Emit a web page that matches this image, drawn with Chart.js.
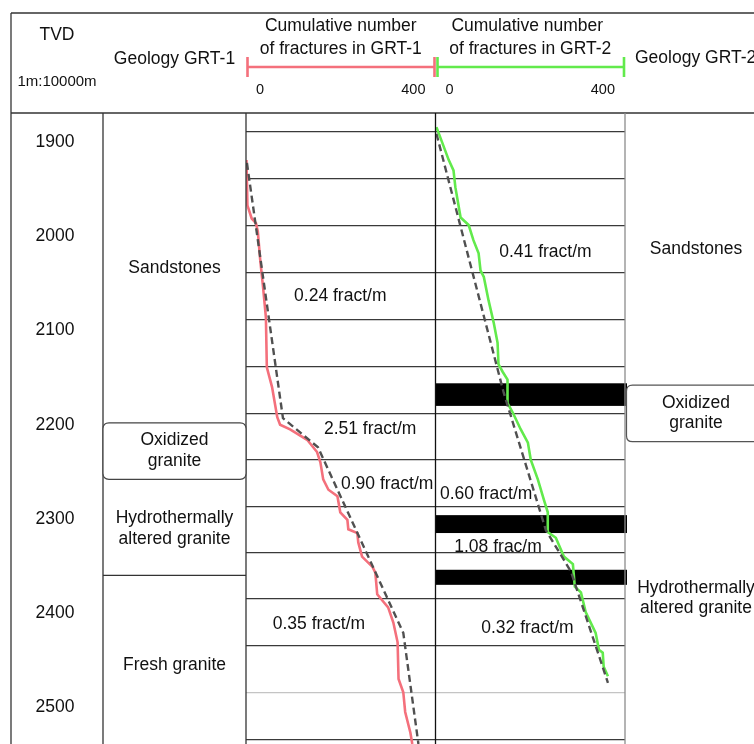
<!DOCTYPE html>
<html><head><meta charset="utf-8">
<script src="https://cdn.jsdelivr.net/npm/chart.js@4.4.1/dist/chart.umd.min.js"></script>
<style>html,body{margin:0;padding:0;background:#fff;overflow:hidden}canvas{display:block}</style>
</head><body>
<canvas id="c" width="754" height="744"></canvas>
<script>
// ---------- DATA ----------
const depthTicks = [1900, 2000, 2100, 2200, 2300, 2400, 2500];
const gridDepths = [1889, 1939, 1989, 2039, 2088, 2138, 2188, 2237, 2287, 2336, 2385, 2435, 2485, 2534];
const lightGridDepth = 2485;
const countTicks = [0, 400];

// GRT-1 measured cumulative fractures
const grt1Depths = [1919, 1967, 1981, 1986, 1995, 2025, 2054, 2086, 2139, 2160, 2192, 2200, 2205, 2216, 2229, 2240, 2258, 2269, 2276, 2293, 2301, 2311, 2315, 2325, 2340, 2351, 2357, 2380, 2388, 2394, 2410, 2431, 2470, 2484, 2505, 2527, 2539];
const grt1Counts = [1, 3, 12, 21, 25, 30, 36, 42, 44, 55, 66, 72, 93, 129, 150, 157, 163, 174, 193, 199, 214, 216, 235, 237, 245, 267, 273, 277, 290, 300, 311, 320, 322, 332, 336, 347, 351];
// GRT-1 piecewise trend (dashed)
const trend1Depths = [1922, 2193, 2224, 2421, 2539];
const trend1Counts = [2, 78, 152, 332, 364];

// GRT-2 measured cumulative fractures
const grt2Depths = [1884, 1919, 1930, 1948, 1980, 1988, 2004, 2018, 2036, 2043, 2068, 2092, 2113, 2136, 2144, 2152, 2177, 2187, 2205, 2219, 2237, 2258, 2280, 2293, 2314, 2320, 2340, 2348, 2372, 2378, 2399, 2421, 2439, 2442, 2457, 2467];
const grt2Counts = [2, 28, 38, 42, 53, 70, 80, 91, 95, 102, 112, 123, 131, 133, 142, 152, 152, 163, 180, 195, 201, 216, 229, 237, 237, 254, 271, 290, 294, 307, 317, 338, 345, 353, 355, 364];
// GRT-2 piecewise trend (dashed)
const trend2Depths = [1891, 2166, 2312, 2356, 2474];
const trend2Counts = [2, 144, 233, 286, 364];

// Fracture-rate annotations
const rate1Labels = ["0.24 fract/m", "2.51 fract/m", "0.90 fract/m", "0.35 fract/m"];
const rate1Depths = [2064, 2205, 2263, 2412];
const rate1Counts = [199, 262, 298, 154];
const rate2Labels = ["0.41 fract/m", "0.60 fract/m", "1.08 frac/m", "0.32 fract/m"];
const rate2Depths = [2017, 2274, 2330, 2416];
const rate2Counts = [232, 107, 132, 194];

// Black bars in GRT-2 track
const barTops = [2156, 2296, 2354];
const barBottoms = [2180, 2315, 2370];

// Geology GRT-1
const geo1Labels = [["Sandstones"], ["Oxidized", "granite"], ["Hydrothermally", "altered granite"], ["Fresh granite"]];
const geo1LabelDepths = [2034, 2228, 2310, 2455];
const geo1BoxTop = 2198, geo1BoxBottom = 2258;
const geo1Boundary = 2360;
// Geology GRT-2
const geo2Labels = [["Sandstones"], ["Oxidized", "granite"], ["Hydrothermally", "altered granite"]];
const geo2LabelDepths = [2014, 2188, 2384];
const geo2BoxTop = 2158, geo2BoxBottom = 2218;

// ---------- CHART ----------
const FONT = '"Liberation Sans", Arial, sans-serif';
const RED = '#f4707c', GREEN = '#62ea4c', DASH = '#505050', LINE = '#333333';
const pts = (d, c) => d.map((v, i) => ({x: c[i], y: v}));

const splitTracks = {
  id: 'splitTracks',
  afterLayout(chart) {
    const a = chart.chartArea, mid = (a.left + a.right) / 2;
    const s1 = chart.scales.x1, s2 = chart.scales.x2;
    s1.left = a.left; s1.right = mid; s1.width = mid - a.left; s1.configure();
    s2.left = mid; s2.right = a.right; s2.width = a.right - mid; s2.configure();
  }
};

function txt(ctx, s, x, y, size, align) {
  ctx.font = size + 'px ' + FONT;
  ctx.textAlign = align || 'center';
  ctx.textBaseline = 'middle';
  ctx.fillText(s, x, y);
}
function lines(ctx, arr, x, yc, size, gap) {
  const n = arr.length;
  arr.forEach((s, i) => txt(ctx, s, x, yc + (i - (n - 1) / 2) * gap, size));
}
function hline(ctx, x0, x1, y, color, w) {
  ctx.strokeStyle = color; ctx.lineWidth = w || 1.3;
  ctx.beginPath(); ctx.moveTo(x0, y); ctx.lineTo(x1, y); ctx.stroke();
}
function vline(ctx, x, y0, y1, color, w) {
  ctx.strokeStyle = color; ctx.lineWidth = w || 1.3;
  ctx.beginPath(); ctx.moveTo(x, y0); ctx.lineTo(x, y1); ctx.stroke();
}
function rrect(ctx, x0, y0, x1, y1, r) {
  ctx.beginPath();
  ctx.moveTo(x0 + r, y0); ctx.lineTo(x1 - r, y0); ctx.quadraticCurveTo(x1, y0, x1, y0 + r);
  ctx.lineTo(x1, y1 - r); ctx.quadraticCurveTo(x1, y1, x1 - r, y1);
  ctx.lineTo(x0 + r, y1); ctx.quadraticCurveTo(x0, y1, x0, y1 - r);
  ctx.lineTo(x0, y0 + r); ctx.quadraticCurveTo(x0, y0, x0 + r, y0);
  ctx.closePath();
}

const logPlot = {
  id: 'logPlot',
  beforeDraw(chart) {
    const c = chart.ctx; c.save(); c.fillStyle = '#fff'; c.fillRect(0, 0, chart.width, chart.height); c.restore();
  },
  beforeDatasetsDraw(chart) {
    const c = chart.ctx, y = chart.scales.y, x2 = chart.scales.x2;
    c.save(); c.fillStyle = '#000';
    const xa = x2.getPixelForValue(0), xb = x2.getPixelForValue(400);
    barTops.forEach((t, i) => {
      const y0 = y.getPixelForValue(t), y1 = y.getPixelForValue(barBottoms[i]);
      c.fillRect(xa, y0, xb - xa + 2, y1 - y0);
    });
    c.restore();
  },
  afterDatasetsDraw(chart) {
    const c = chart.ctx, y = chart.scales.y, x1 = chart.scales.x1, x2 = chart.scales.x2;
    c.save(); c.fillStyle = '#111';
    rate1Labels.forEach((s, i) => txt(c, s, x1.getPixelForValue(rate1Counts[i]), y.getPixelForValue(rate1Depths[i]), 17.5));
    rate2Labels.forEach((s, i) => txt(c, s, x2.getPixelForValue(rate2Counts[i]), y.getPixelForValue(rate2Depths[i]), 17.5));
    c.restore();
  },
  afterDraw(chart) {
    const c = chart.ctx, y = chart.scales.y, x1 = chart.scales.x1, x2 = chart.scales.x2;
    const a = chart.chartArea, W = chart.width, H = chart.height;
    const L = 11, T = 13, HB = a.top, C1 = 103;
    c.save();
    // frame
    hline(c, L, W, T, LINE); hline(c, L, W, HB, LINE);
    vline(c, L, T, H, LINE); vline(c, C1, HB, H, LINE);
    vline(c, x1.left, HB, H, LINE); vline(c, x1.right, HB, H, '#111');
    vline(c, x2.right, HB, H, '#8c8c8c');
    // geology GRT-1
    const gx0 = C1, gx1 = x1.left, gc = (gx0 + gx1) / 2;
    hline(c, gx0, gx1, y.getPixelForValue(geo1Boundary), LINE);
    rrect(c, gx0, y.getPixelForValue(geo1BoxTop), gx1, y.getPixelForValue(geo1BoxBottom), 6);
    c.fillStyle = '#fff'; c.fill(); c.strokeStyle = '#444'; c.lineWidth = 1.2; c.stroke();
    c.fillStyle = '#111';
    geo1Labels.forEach((arr, i) => lines(c, arr, gc, y.getPixelForValue(geo1LabelDepths[i]), 17.5, 21));
    // geology GRT-2
    const hx0 = x2.right + 1.5, hc = 696;
    rrect(c, hx0, y.getPixelForValue(geo2BoxTop), W + 20, y.getPixelForValue(geo2BoxBottom), 6);
    c.fillStyle = '#fff'; c.fill(); c.strokeStyle = '#555'; c.lineWidth = 1.2; c.stroke();
    c.fillStyle = '#111';
    geo2Labels.forEach((arr, i) => lines(c, arr, hc, y.getPixelForValue(geo2LabelDepths[i]), 17.5, 20));
    // depth labels
    depthTicks.forEach(v => txt(c, String(v), 55, y.getPixelForValue(v), 17.5));
    // header
    txt(c, 'TVD', 57, 35, 17.5);
    txt(c, '1m:10000m', 57, 82, 15);
    txt(c, 'Geology GRT-1', gc, 59, 17.5);
    const m1 = (x1.left + x1.right) / 2, m2 = (x2.left + x2.right) / 2;
    txt(c, 'Cumulative number', m1, 26, 17.5); txt(c, 'of fractures in GRT-1', m1, 49, 17.5);
    txt(c, 'Cumulative number', m2 - 3, 26, 17.5); txt(c, 'of fractures in GRT-2', m2, 49, 17.5);
    txt(c, 'Geology GRT-2', x2.right + 10, 58, 17.5, 'left');
    // colored scale bars
    const bar = (s, color, inset) => {
      const xa = s.getPixelForValue(0) + inset, xb = s.getPixelForValue(400) - 1;
      c.strokeStyle = color; c.lineWidth = 2.6;
      c.beginPath(); c.moveTo(xa, 67); c.lineTo(xb, 67); c.stroke();
      c.beginPath(); c.moveTo(xa, 57); c.lineTo(xa, 77); c.moveTo(xb, 57); c.lineTo(xb, 77); c.stroke();
    };
    bar(x1, RED, 1.5); bar(x2, GREEN, 2);
    c.fillStyle = '#111';
    txt(c, String(countTicks[0]), x1.getPixelForValue(countTicks[0]) + 10, 90, 14.5, 'left');
    txt(c, String(countTicks[1]), x1.getPixelForValue(countTicks[1]) - 10, 90, 14.5, 'right');
    txt(c, String(countTicks[0]), x2.getPixelForValue(countTicks[0]) + 10, 90, 14.5, 'left');
    txt(c, String(countTicks[1]), x2.getPixelForValue(countTicks[1]) - 10, 90, 14.5, 'right');
    c.restore();
  }
};

new Chart(document.getElementById('c'), {
  type: 'line',
  data: {
    datasets: [
      {label: 'GRT-1 trend', data: pts(trend1Depths, trend1Counts), xAxisID: 'x1', yAxisID: 'y', borderColor: DASH, borderDash: [7, 4], borderWidth: 2.4, pointRadius: 0, order: 0},
      {label: 'GRT-1', data: pts(grt1Depths, grt1Counts), xAxisID: 'x1', yAxisID: 'y', borderColor: RED, borderWidth: 2.6, pointRadius: 0, order: 1},
      {label: 'GRT-2 trend', data: pts(trend2Depths, trend2Counts), xAxisID: 'x2', yAxisID: 'y', borderColor: DASH, borderDash: [7, 4], borderWidth: 2.4, pointRadius: 0, order: 0},
      {label: 'GRT-2', data: pts(grt2Depths, grt2Counts), xAxisID: 'x2', yAxisID: 'y', borderColor: GREEN, borderWidth: 2.6, pointRadius: 0, order: 1}
    ]
  },
  options: {
    indexAxis: 'y',
    responsive: false,
    animation: false,
    devicePixelRatio: 1,
    layout: {padding: {left: 246, right: 129, top: 113, bottom: 0}},
    elements: {line: {tension: 0, fill: false}},
    plugins: {legend: {display: false}, tooltip: {enabled: false}},
    scales: {
      y: {
        type: 'linear', reverse: true, min: 1869, max: 2539, position: 'left',
        afterBuildTicks: s => { s.ticks = gridDepths.map(v => ({value: v})); },
        ticks: {display: false},
        border: {display: false},
        grid: {drawTicks: false, lineWidth: 1.3, color: ctx => (ctx.tick && ctx.tick.value === lightGridDepth) ? '#c4c4c4' : '#3a3a3a'}
      },
      x1: {type: 'linear', min: 0, max: 400, display: false, position: 'top'},
      x2: {type: 'linear', min: 0, max: 400, display: false, position: 'top'}
    }
  },
  plugins: [splitTracks, logPlot]
});
</script>
</body></html>
